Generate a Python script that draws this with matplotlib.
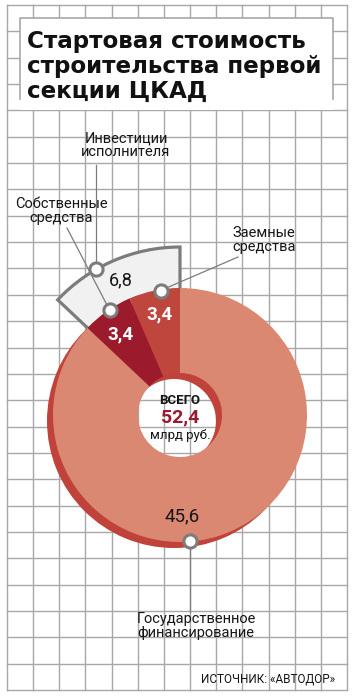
import numpy as np
import matplotlib
matplotlib.use("Agg")
import matplotlib.pyplot as plt
from matplotlib.patches import Rectangle

# --- data -------------------------------------------------------------
segment_names = ["Государственное\nфинансирование", "Собственные\nсредства", "Заемные\nсредства"]
segment_values = [45.6, 3.4, 3.4]          # clockwise from 12 o'clock
investor_name = "Инвестиции\nисполнителя"
investor_value = 6.8                       # = own + borrowed funds
total_value = 52.4
total_caption = "ВСЕГО"
total_unit = "млрд руб."
title_lines = ["Стартовая стоимость", "строительства первой", "секции ЦКАД"]
source_text = "ИСТОЧНИК: «АВТОДОР»"

# --- style ------------------------------------------------------------
SEG_COLORS = ["#db8872", "#9b1a2c", "#bf463d"]
SHADOW = "#c0423a"
WEDGE_FILL = "#f1f1f1"
EDGE_GRAY = "#7c7c7c"
GRID = "#a8a8a8"
INK = "#161616"
LABEL_FONT = ["Roboto", "DejaVu Sans"]
NARROW_FONT = ["Liberation Sans Narrow", "Roboto", "DejaVu Sans"]

W, H = 354, 699
CX, CY = 180, H - 415          # donut centre (y axis points up)
R, R_HOLE, R_OUT = 127, 42, 168
SHADOW_DX, SHADOW_DY = -6, -6


def fmt(v):
    return f"{v:.1f}".replace(".", ",")


def polar(angle_cw, r, cx=CX, cy=CY):
    a = np.deg2rad(angle_cw)
    return cx + r * np.sin(a), cy + r * np.cos(a)


def py(y):
    return H - y


fig = plt.figure(figsize=(W / 100, H / 100), dpi=100)
ax = fig.add_axes([0, 0, 1, 1])

# grid paper background
for x in np.linspace(7, 347, 14):
    ax.plot([x, x], [py(5), py(690)], color=GRID, lw=1.0, zorder=0)
for y in np.linspace(5, 690, 27):
    ax.plot([7, 347], [py(y), py(y)], color=GRID, lw=1.0, zorder=0)

# title box
ax.add_patch(Rectangle((20, py(110)), 313, 92, facecolor="white", edgecolor="none", zorder=1))
ax.plot([20, 20, 333, 333], [py(99), py(18), py(18), py(99)], color=GRID, lw=1.2, zorder=1)
for i, line in enumerate(title_lines):
    ax.text(27, py(48 + 25 * i), line, fontsize=16.6, fontweight="heavy",
            family="DejaVu Sans", color="#111111", va="baseline", ha="left", zorder=2)

# shadow ring
ax.pie([total_value], radius=R, center=(CX + SHADOW_DX, CY + SHADOW_DY),
       colors=[SHADOW], startangle=90, counterclock=False,
       wedgeprops=dict(width=R - R_HOLE, linewidth=0, zorder=2))

# outer wedge for the contractor's investment
outer, _ = ax.pie([sum(segment_values) - investor_value, investor_value], radius=R_OUT,
                  center=(CX, CY), colors=["none", WEDGE_FILL], startangle=90,
                  counterclock=False,
                  wedgeprops=dict(width=R_OUT - R + 8, linewidth=2.3,
                                  edgecolor=EDGE_GRAY, zorder=3))
outer[0].set_visible(False)

# main donut
ax.pie(segment_values, radius=R, center=(CX, CY), colors=SEG_COLORS,
       startangle=90, counterclock=False,
       wedgeprops=dict(width=R - R_HOLE, linewidth=0, zorder=4))

starts = np.concatenate([[0], np.cumsum(segment_values)[:-1]]) / total_value * 360
spans = np.array(segment_values) / total_value * 360
inv_start = 360 - investor_value / total_value * 360
inv_span = investor_value / total_value * 360

# value labels
label_frac = [0.57, 0.45, 0.52]
label_r = [101, 100, 103]
label_color = [INK, "white", "white"]
label_weight = ["normal", "bold", "bold"]
for v, s, sp, f, r, c, w in zip(segment_values, starts, spans, label_frac,
                                label_r, label_color, label_weight):
    x, y = polar(s + f * sp, r)
    ax.text(x, y, fmt(v), ha="center", va="center", fontsize=13.5, color=c,
            fontweight=w, family=LABEL_FONT, zorder=7)
x, y = polar(inv_start + 0.49 * inv_span, 147)
ax.text(x, y, fmt(investor_value), ha="center", va="center", fontsize=13,
        color=INK, family=LABEL_FONT, zorder=7)

# markers, leaders and category labels
marker_frac = [0.56, 0.55, 0.62]
leader_end = [(None, 612), (67, 228), (238, 257)]
name_pos = [(196, 626), (61, 211), (264, 240)]
points = []
for s, sp, f in zip(starts, spans, marker_frac):
    points.append(polar(s + f * sp, R - 1))
points.append(polar(inv_start + 0.36 * inv_span, R_OUT))
leader_end.append((None, 165))
name_pos.append((126, 145))
names = segment_names + [investor_name]

for (mx, my), (ex, ey), (tx, ty), name in zip(points, leader_end, name_pos, names):
    ex = mx if ex is None else ex
    ax.plot([mx, ex], [my, py(ey)], color=EDGE_GRAY, lw=0.9, zorder=5)
    ax.plot(mx, my, "o", ms=9.5, mfc="white", mec=EDGE_GRAY, mew=2.2, zorder=6)
    ax.text(tx, py(ty), name, ha="center", va="center", fontsize=10.5,
            family=LABEL_FONT, color=INK, linespacing=0.95, zorder=7)

# centre total
ax.text(CX, py(400), total_caption, ha="center", va="center", fontsize=9.5,
        family=NARROW_FONT, fontweight="bold", color=INK, zorder=7)
ax.text(CX, py(417.5), fmt(total_value), ha="center", va="center", fontsize=14,
        family=LABEL_FONT, fontweight="bold", color=SEG_COLORS[1], zorder=7)
ax.text(CX, py(435), total_unit, ha="center", va="center", fontsize=9.5,
        family=NARROW_FONT, color=INK, zorder=7)

# source
ax.text(335, py(679), source_text, ha="right", va="center", fontsize=8.5,
        family=NARROW_FONT, color=INK, zorder=7)

ax.set_xlim(0, W)
ax.set_ylim(0, H)
ax.set_aspect("auto")
ax.axis("off")
fig.savefig("out.png", dpi=100, facecolor="white")
